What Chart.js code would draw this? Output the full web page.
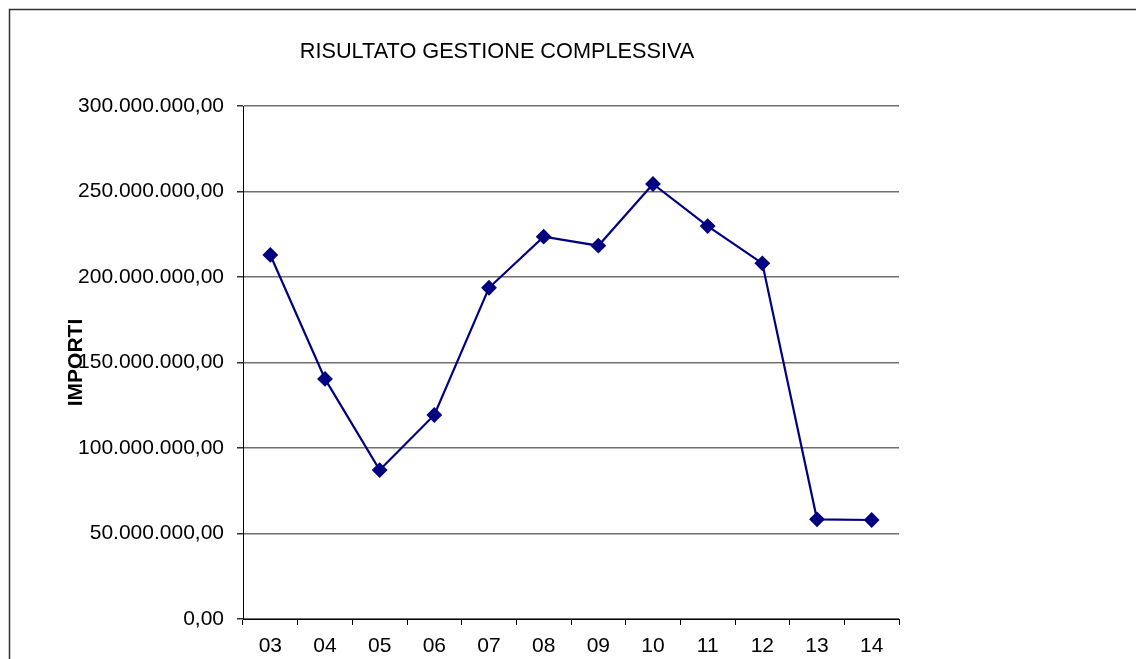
<!DOCTYPE html>
<html>
<head>
<meta charset="utf-8">
<title>Risultato gestione complessiva</title>
<script src="https://cdn.jsdelivr.net/npm/chart.js@4.4.1/dist/chart.umd.min.js"></script>
<style>
  html, body { margin: 0; padding: 0; background: #ffffff; }
  canvas { display: block; }
</style>
</head>
<body>
<canvas id="risultatoChart" width="1136" height="659"></canvas>
<script>
// dati
const anni = ['03', '04', '05', '06', '07', '08', '09', '10', '11', '12', '13', '14'];
const risultato = [212900000, 140400000, 87100000, 119300000, 193700000, 223600000,
                   218300000, 254400000, 229800000, 208000000, 58300000, 57900000];
const yMin = 0;
const yMax = 300000000;
const yStep = 50000000;
const titolo = 'RISULTATO GESTIONE COMPLESSIVA';

// formato italiano: 300.000.000,00
function formatImporto(v) {
    const intero = Math.round(v).toString().replace(/\B(?=(\d{3})+(?!\d))/g, '.');
    return intero + ',00';
}

// cornice esterna + titolo (il titolo non è centrato sull'area del grafico)
const cornice = {
    id: 'cornice',
    beforeDraw(chart) {
        const ctx = chart.ctx;
        ctx.save();
        ctx.strokeStyle = '#333333';
        ctx.lineWidth = 1.5;
        ctx.beginPath();
        ctx.moveTo(9.5, chart.height);
        ctx.lineTo(9.5, 9.5);
        ctx.lineTo(chart.width, 9.5);
        ctx.stroke();
        ctx.restore();
    },
    afterDraw(chart) {
        const ctx = chart.ctx;
        ctx.save();
        ctx.fillStyle = '#000000';
        ctx.font = '21.7px "Liberation Sans", Arial, sans-serif';
        ctx.textAlign = 'center';
        ctx.textBaseline = 'middle';
        ctx.fillText(titolo, 497, 52);
        ctx.restore();
    }
};

Chart.defaults.font.family = '"Liberation Sans", Arial, sans-serif';
Chart.defaults.color = '#000000';

const ctx = document.getElementById('risultatoChart').getContext('2d');

new Chart(ctx, {
    type: 'line',
    data: {
        labels: anni,
        datasets: [{
            label: 'Risultato',
            data: risultato,
            borderColor: '#000080',
            backgroundColor: '#000080',
            borderWidth: 2.2,
            tension: 0,
            pointStyle: 'rectRot',
            pointRadius: 6.5,
            pointBorderWidth: 2,
            pointHoverRadius: 6.5,
            clip: false
        }]
    },
    options: {
        responsive: false,
        animation: false,
        layout: {
            padding: { left: 0, right: 237, top: 106, bottom: 0 }
        },
        plugins: {
            legend: { display: false },
            tooltip: { enabled: false },
            title: { display: false }
        },
        scales: {
            x: {
                offset: true,
                grid: {
                    offset: true,
                    drawOnChartArea: false,
                    color: '#000000',
                    tickLength: 6
                },
                border: { color: '#000000', width: 1 },
                ticks: {
                    color: '#000000',
                    font: { size: 21 },
                    padding: 9,
                    maxRotation: 0
                },
                afterFit(scale) { scale.height = 40; }
            },
            y: {
                min: yMin,
                max: yMax,
                grid: {
                    color: '#707070',
                    lineWidth: 1.5,
                    tickLength: 6,
                    tickColor: '#333333'
                },
                border: { color: '#000000', width: 1 },
                ticks: {
                    stepSize: yStep,
                    color: '#000000',
                    font: { size: 21 },
                    padding: 13,
                    callback: (v) => formatImporto(v)
                },
                title: {
                    display: true,
                    text: 'IMPORTI',
                    color: '#000000',
                    font: { size: 21, weight: 'bold' },
                    padding: { top: 64, bottom: 0 }
                },
                afterFit(scale) { scale.width = 243; }
            }
        }
    },
    plugins: [cornice]
});
</script>
</body>
</html>
